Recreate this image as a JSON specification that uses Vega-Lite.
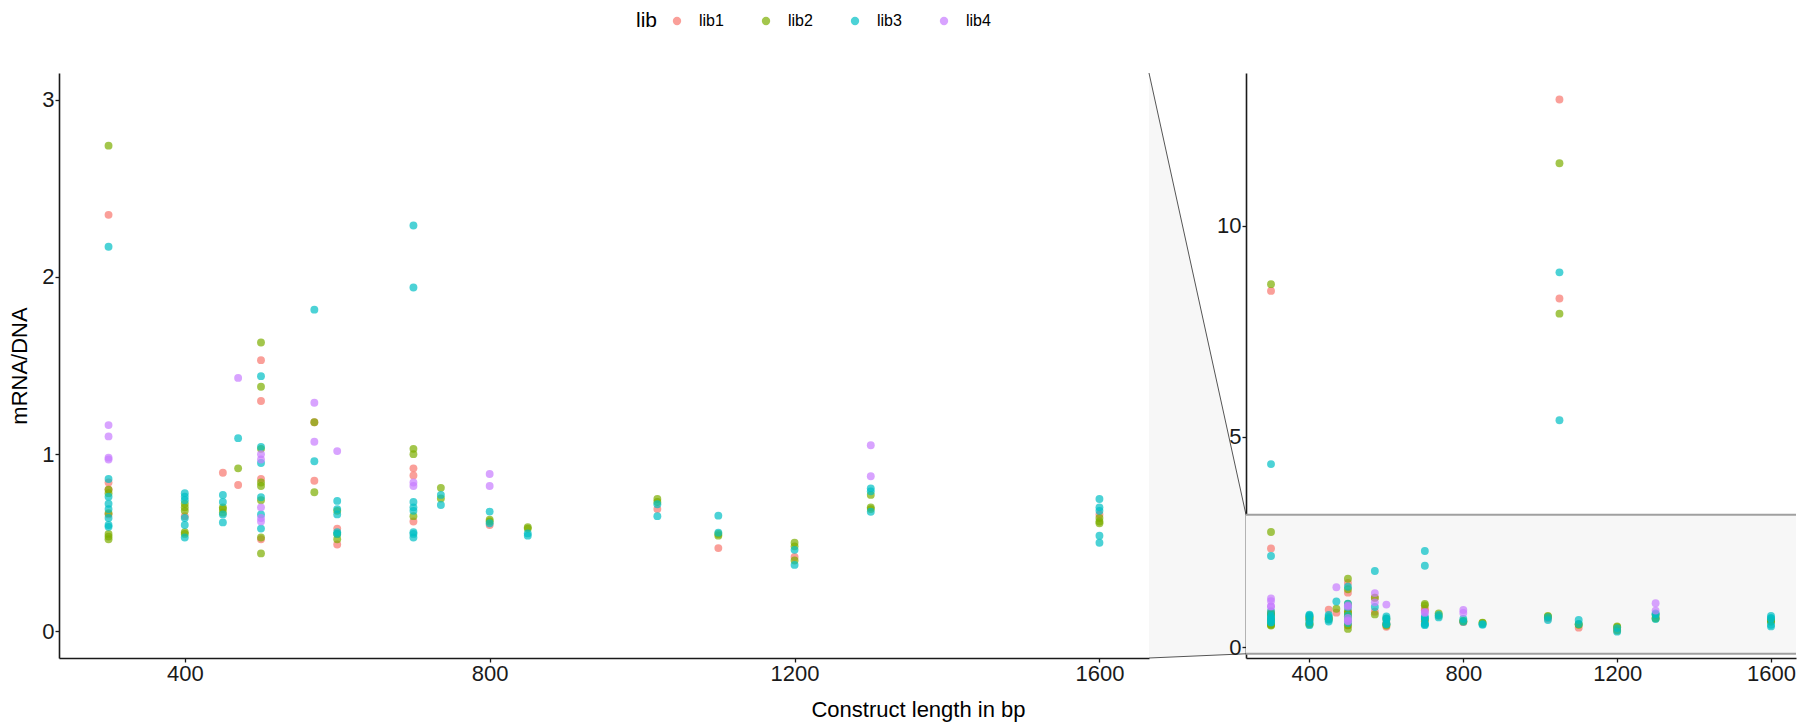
{
  "$schema": "https://vega.github.io/schema/vega-lite/v6.json",
  "autosize": {"type": "pad"},
  "padding": {"left": 8, "top": 13, "right": 4, "bottom": 5},
  "background": "white",
  "config": {
    "font": "Liberation Sans",
    "view": {"stroke": null},
    "concat": {"spacing": 0},
    "axis": {
      "grid": false,
      "domainColor": "#1a1a1a",
      "domainWidth": 1.6,
      "tickColor": "#1a1a1a",
      "tickWidth": 1.3,
      "tickSize": 4,
      "labelColor": "#1a1a1a",
      "labelFontSize": 22,
      "labelPadding": 1,
      "titleFontSize": 22,
      "titleFontWeight": "normal",
      "titleColor": "#000000"
    }
  },
  "bounds": "flush",
  "datasets": {
    "pts": [
      {"x": 300, "y": 2.35, "lib": "lib1"}, {"x": 300, "y": 8.46, "lib": "lib1"}, {"x": 300, "y": 0.84, "lib": "lib1"}, {"x": 300, "y": 0.80, "lib": "lib1"}, {"x": 300, "y": 0.66, "lib": "lib1"},
      {"x": 300, "y": 2.74, "lib": "lib2"}, {"x": 300, "y": 8.62, "lib": "lib2"}, {"x": 300, "y": 0.80, "lib": "lib2"}, {"x": 300, "y": 0.78, "lib": "lib2"}, {"x": 300, "y": 0.667, "lib": "lib2"}, {"x": 300, "y": 0.55, "lib": "lib2"}, {"x": 300, "y": 0.535, "lib": "lib2"}, {"x": 300, "y": 0.52, "lib": "lib2"},
      {"x": 300, "y": 2.17, "lib": "lib3"}, {"x": 300, "y": 4.35, "lib": "lib3"}, {"x": 300, "y": 0.86, "lib": "lib3"}, {"x": 300, "y": 0.76, "lib": "lib3"}, {"x": 300, "y": 0.72, "lib": "lib3"}, {"x": 300, "y": 0.69, "lib": "lib3"}, {"x": 300, "y": 0.64, "lib": "lib3"}, {"x": 300, "y": 0.60, "lib": "lib3"}, {"x": 300, "y": 0.59, "lib": "lib3"},
      {"x": 300, "y": 1.164, "lib": "lib4"}, {"x": 300, "y": 1.10, "lib": "lib4"}, {"x": 300, "y": 0.98, "lib": "lib4"}, {"x": 300, "y": 0.97, "lib": "lib4"},
      {"x": 400, "y": 0.65, "lib": "lib1"},
      {"x": 400, "y": 0.72, "lib": "lib2"}, {"x": 400, "y": 0.70, "lib": "lib2"}, {"x": 400, "y": 0.68, "lib": "lib2"}, {"x": 400, "y": 0.56, "lib": "lib2"}, {"x": 400, "y": 0.55, "lib": "lib2"},
      {"x": 400, "y": 0.78, "lib": "lib3"}, {"x": 400, "y": 0.76, "lib": "lib3"}, {"x": 400, "y": 0.74, "lib": "lib3"}, {"x": 400, "y": 0.64, "lib": "lib3"}, {"x": 400, "y": 0.60, "lib": "lib3"}, {"x": 400, "y": 0.53, "lib": "lib3"},
      {"x": 450, "y": 0.895, "lib": "lib1"},
      {"x": 450, "y": 0.70, "lib": "lib2"}, {"x": 450, "y": 0.69, "lib": "lib2"}, {"x": 450, "y": 0.67, "lib": "lib2"},
      {"x": 450, "y": 0.77, "lib": "lib3"}, {"x": 450, "y": 0.73, "lib": "lib3"}, {"x": 450, "y": 0.66, "lib": "lib3"}, {"x": 450, "y": 0.615, "lib": "lib3"},
      {"x": 470, "y": 0.826, "lib": "lib1"}, {"x": 470, "y": 0.92, "lib": "lib2"}, {"x": 470, "y": 1.09, "lib": "lib3"}, {"x": 470, "y": 1.43, "lib": "lib4"},
      {"x": 500, "y": 1.53, "lib": "lib1"}, {"x": 500, "y": 1.30, "lib": "lib1"}, {"x": 500, "y": 0.86, "lib": "lib1"}, {"x": 500, "y": 0.52, "lib": "lib1"},
      {"x": 500, "y": 1.63, "lib": "lib2"}, {"x": 500, "y": 1.38, "lib": "lib2"}, {"x": 500, "y": 1.03, "lib": "lib2"}, {"x": 500, "y": 0.84, "lib": "lib2"}, {"x": 500, "y": 0.82, "lib": "lib2"}, {"x": 500, "y": 0.74, "lib": "lib2"}, {"x": 500, "y": 0.53, "lib": "lib2"}, {"x": 500, "y": 0.44, "lib": "lib2"},
      {"x": 500, "y": 1.44, "lib": "lib3"}, {"x": 500, "y": 1.04, "lib": "lib3"}, {"x": 500, "y": 0.95, "lib": "lib3"}, {"x": 500, "y": 0.757, "lib": "lib3"}, {"x": 500, "y": 0.66, "lib": "lib3"}, {"x": 500, "y": 0.58, "lib": "lib3"},
      {"x": 500, "y": 1.00, "lib": "lib4"}, {"x": 500, "y": 0.97, "lib": "lib4"}, {"x": 500, "y": 0.70, "lib": "lib4"}, {"x": 500, "y": 0.64, "lib": "lib4"}, {"x": 500, "y": 0.62, "lib": "lib4"},
      {"x": 570, "y": 1.18, "lib": "lib1"}, {"x": 570, "y": 0.85, "lib": "lib1"},
      {"x": 570, "y": 1.18, "lib": "lib2"}, {"x": 570, "y": 0.785, "lib": "lib2"},
      {"x": 570, "y": 1.815, "lib": "lib3"}, {"x": 570, "y": 0.96, "lib": "lib3"},
      {"x": 570, "y": 1.29, "lib": "lib4"}, {"x": 570, "y": 1.07, "lib": "lib4"},
      {"x": 600, "y": 0.58, "lib": "lib1"}, {"x": 600, "y": 0.49, "lib": "lib1"},
      {"x": 600, "y": 0.68, "lib": "lib2"}, {"x": 600, "y": 0.55, "lib": "lib2"}, {"x": 600, "y": 0.52, "lib": "lib2"},
      {"x": 600, "y": 0.736, "lib": "lib3"}, {"x": 600, "y": 0.69, "lib": "lib3"}, {"x": 600, "y": 0.66, "lib": "lib3"}, {"x": 600, "y": 0.56, "lib": "lib3"}, {"x": 600, "y": 0.55, "lib": "lib3"},
      {"x": 600, "y": 1.017, "lib": "lib4"},
      {"x": 700, "y": 0.92, "lib": "lib1"}, {"x": 700, "y": 0.88, "lib": "lib1"}, {"x": 700, "y": 0.62, "lib": "lib1"},
      {"x": 700, "y": 1.03, "lib": "lib2"}, {"x": 700, "y": 1.00, "lib": "lib2"}, {"x": 700, "y": 0.65, "lib": "lib2"},
      {"x": 700, "y": 2.29, "lib": "lib3"}, {"x": 700, "y": 1.94, "lib": "lib3"}, {"x": 700, "y": 0.73, "lib": "lib3"}, {"x": 700, "y": 0.70, "lib": "lib3"}, {"x": 700, "y": 0.68, "lib": "lib3"}, {"x": 700, "y": 0.56, "lib": "lib3"}, {"x": 700, "y": 0.55, "lib": "lib3"}, {"x": 700, "y": 0.53, "lib": "lib3"},
      {"x": 700, "y": 0.84, "lib": "lib4"}, {"x": 700, "y": 0.82, "lib": "lib4"},
      {"x": 736, "y": 0.81, "lib": "lib2"}, {"x": 736, "y": 0.75, "lib": "lib2"},
      {"x": 736, "y": 0.77, "lib": "lib3"}, {"x": 736, "y": 0.713, "lib": "lib3"},
      {"x": 800, "y": 0.60, "lib": "lib1"},
      {"x": 800, "y": 0.63, "lib": "lib2"}, {"x": 800, "y": 0.62, "lib": "lib2"},
      {"x": 800, "y": 0.676, "lib": "lib3"}, {"x": 800, "y": 0.61, "lib": "lib3"},
      {"x": 800, "y": 0.888, "lib": "lib4"}, {"x": 800, "y": 0.82, "lib": "lib4"},
      {"x": 850, "y": 0.588, "lib": "lib2"}, {"x": 850, "y": 0.58, "lib": "lib2"},
      {"x": 850, "y": 0.553, "lib": "lib3"}, {"x": 850, "y": 0.54, "lib": "lib3"},
      {"x": 1020, "y": 0.69, "lib": "lib1"},
      {"x": 1020, "y": 0.747, "lib": "lib2"}, {"x": 1020, "y": 0.73, "lib": "lib2"},
      {"x": 1020, "y": 0.717, "lib": "lib3"}, {"x": 1020, "y": 0.65, "lib": "lib3"},
      {"x": 1050, "y": 13.0, "lib": "lib1"}, {"x": 1050, "y": 8.28, "lib": "lib1"},
      {"x": 1050, "y": 11.49, "lib": "lib2"}, {"x": 1050, "y": 7.92, "lib": "lib2"},
      {"x": 1050, "y": 8.9, "lib": "lib3"}, {"x": 1050, "y": 5.39, "lib": "lib3"},
      {"x": 1100, "y": 0.47, "lib": "lib1"},
      {"x": 1100, "y": 0.55, "lib": "lib2"}, {"x": 1100, "y": 0.54, "lib": "lib2"},
      {"x": 1100, "y": 0.653, "lib": "lib3"}, {"x": 1100, "y": 0.557, "lib": "lib3"},
      {"x": 1200, "y": 0.42, "lib": "lib1"},
      {"x": 1200, "y": 0.50, "lib": "lib2"}, {"x": 1200, "y": 0.48, "lib": "lib2"}, {"x": 1200, "y": 0.40, "lib": "lib2"},
      {"x": 1200, "y": 0.46, "lib": "lib3"}, {"x": 1200, "y": 0.375, "lib": "lib3"},
      {"x": 1300, "y": 0.77, "lib": "lib2"}, {"x": 1300, "y": 0.70, "lib": "lib2"}, {"x": 1300, "y": 0.69, "lib": "lib2"},
      {"x": 1300, "y": 0.807, "lib": "lib3"}, {"x": 1300, "y": 0.79, "lib": "lib3"}, {"x": 1300, "y": 0.675, "lib": "lib3"},
      {"x": 1300, "y": 1.05, "lib": "lib4"}, {"x": 1300, "y": 0.875, "lib": "lib4"},
      {"x": 1600, "y": 0.66, "lib": "lib1"},
      {"x": 1600, "y": 0.64, "lib": "lib2"}, {"x": 1600, "y": 0.62, "lib": "lib2"}, {"x": 1600, "y": 0.61, "lib": "lib2"},
      {"x": 1600, "y": 0.747, "lib": "lib3"}, {"x": 1600, "y": 0.70, "lib": "lib3"}, {"x": 1600, "y": 0.68, "lib": "lib3"}, {"x": 1600, "y": 0.54, "lib": "lib3"}, {"x": 1600, "y": 0.50, "lib": "lib3"}
    ],
    "zoombox": [{"lo": -0.15, "hi": 3.15}],
    "zoomedges": [{"v": -0.15}, {"v": 3.15}],
    "connarea": [{"cx": 0, "lo": -0.25, "hi": 13.63}, {"cx": 1, "lo": -0.15, "hi": 3.15}],
    "connlines": [
      {"cx": 0, "v": 13.63, "seg": "top"}, {"cx": 1, "v": 3.15, "seg": "top"},
      {"cx": 0, "v": -0.25, "seg": "bottom"}, {"cx": 1, "v": -0.15, "seg": "bottom"}
    ]
  },
  "resolve": {"scale": {"color": "shared"}},
  "hconcat": [
    {
      "width": 1090,
      "height": 585,
      "data": {"name": "pts"},
      "mark": {"type": "circle", "size": 62, "opacity": 0.7, "clip": true},
      "encoding": {
        "x": {
          "field": "x", "type": "quantitative",
          "scale": {"domain": [235, 1665], "nice": false, "zero": false},
          "axis": {"values": [400, 800, 1200, 1600], "format": "d", "title": "Construct length in bp", "titleX": 859, "titlePadding": 15}
        },
        "y": {
          "field": "y", "type": "quantitative",
          "scale": {"domain": [-0.15, 3.15], "nice": false, "zero": false},
          "axis": {"values": [0, 1, 2, 3], "title": "mRNA/DNA", "titlePadding": 10}
        },
        "color": {
          "field": "lib", "type": "nominal",
          "scale": {"domain": ["lib1", "lib2", "lib3", "lib4"], "range": ["#F8766D", "#7CAE00", "#00BFC4", "#C77CFF"]},
          "legend": {
            "title": "lib",
            "orient": "none",
            "legendX": 577,
            "legendY": -60,
            "direction": "horizontal",
            "titleOrient": "left",
            "titleFontSize": 21,
            "titleFontWeight": "normal",
            "titleColor": "#000000",
            "titlePadding": 11,
            "labelFontSize": 16,
            "labelColor": "#000000",
            "labelOffset": 14,
            "columnPadding": 34,
            "symbolType": "circle",
            "symbolSize": 70,
            "symbolOpacity": 0.7,
            "symbolStrokeWidth": 0
          }
        }
      }
    },
    {
      "width": 97,
      "height": 585,
      "layer": [
        {
          "data": {"name": "connarea"},
          "mark": {"type": "area", "color": "#f7f7f7", "opacity": 1},
          "encoding": {
            "x": {"field": "cx", "type": "quantitative", "scale": {"domain": [0, 1], "nice": false}, "axis": null},
            "y": {"field": "lo", "type": "quantitative", "scale": {"domain": [-0.25, 13.63], "nice": false, "zero": false}, "axis": null},
            "y2": {"field": "hi"}
          }
        },
        {
          "data": {"name": "connlines"},
          "mark": {"type": "line", "color": "#555555", "strokeWidth": 1},
          "encoding": {
            "x": {"field": "cx", "type": "quantitative", "scale": {"domain": [0, 1], "nice": false}, "axis": null},
            "y": {"field": "v", "type": "quantitative", "scale": {"domain": [-0.25, 13.63], "nice": false, "zero": false}, "axis": null},
            "detail": {"field": "seg", "type": "nominal"}
          }
        }
      ]
    },
    {
      "width": 550,
      "height": 585,
      "layer": [
        {
          "data": {"name": "zoombox"},
          "mark": {"type": "rect", "color": "#f7f7f7"},
          "encoding": {
            "y": {"field": "lo", "type": "quantitative", "scale": {"domain": [-0.25, 13.63], "nice": false, "zero": false}},
            "y2": {"field": "hi"}
          }
        },
        {
          "data": {"name": "zoomedges"},
          "mark": {"type": "rule", "color": "#a0a0a0", "strokeWidth": 2},
          "encoding": {
            "y": {"field": "v", "type": "quantitative"}
          }
        },
        {
          "data": {"name": "pts"},
          "mark": {"type": "circle", "size": 62, "opacity": 0.7},
          "encoding": {
            "x": {
              "field": "x", "type": "quantitative",
              "scale": {"domain": [235, 1665], "nice": false, "zero": false},
              "axis": {"values": [400, 800, 1200, 1600], "format": "d", "title": null}
            },
            "y": {
              "field": "y", "type": "quantitative",
              "axis": {"values": [0, 5, 10], "title": null}
            },
            "color": {"field": "lib", "type": "nominal"}
          }
        }
      ]
    }
  ]
}
